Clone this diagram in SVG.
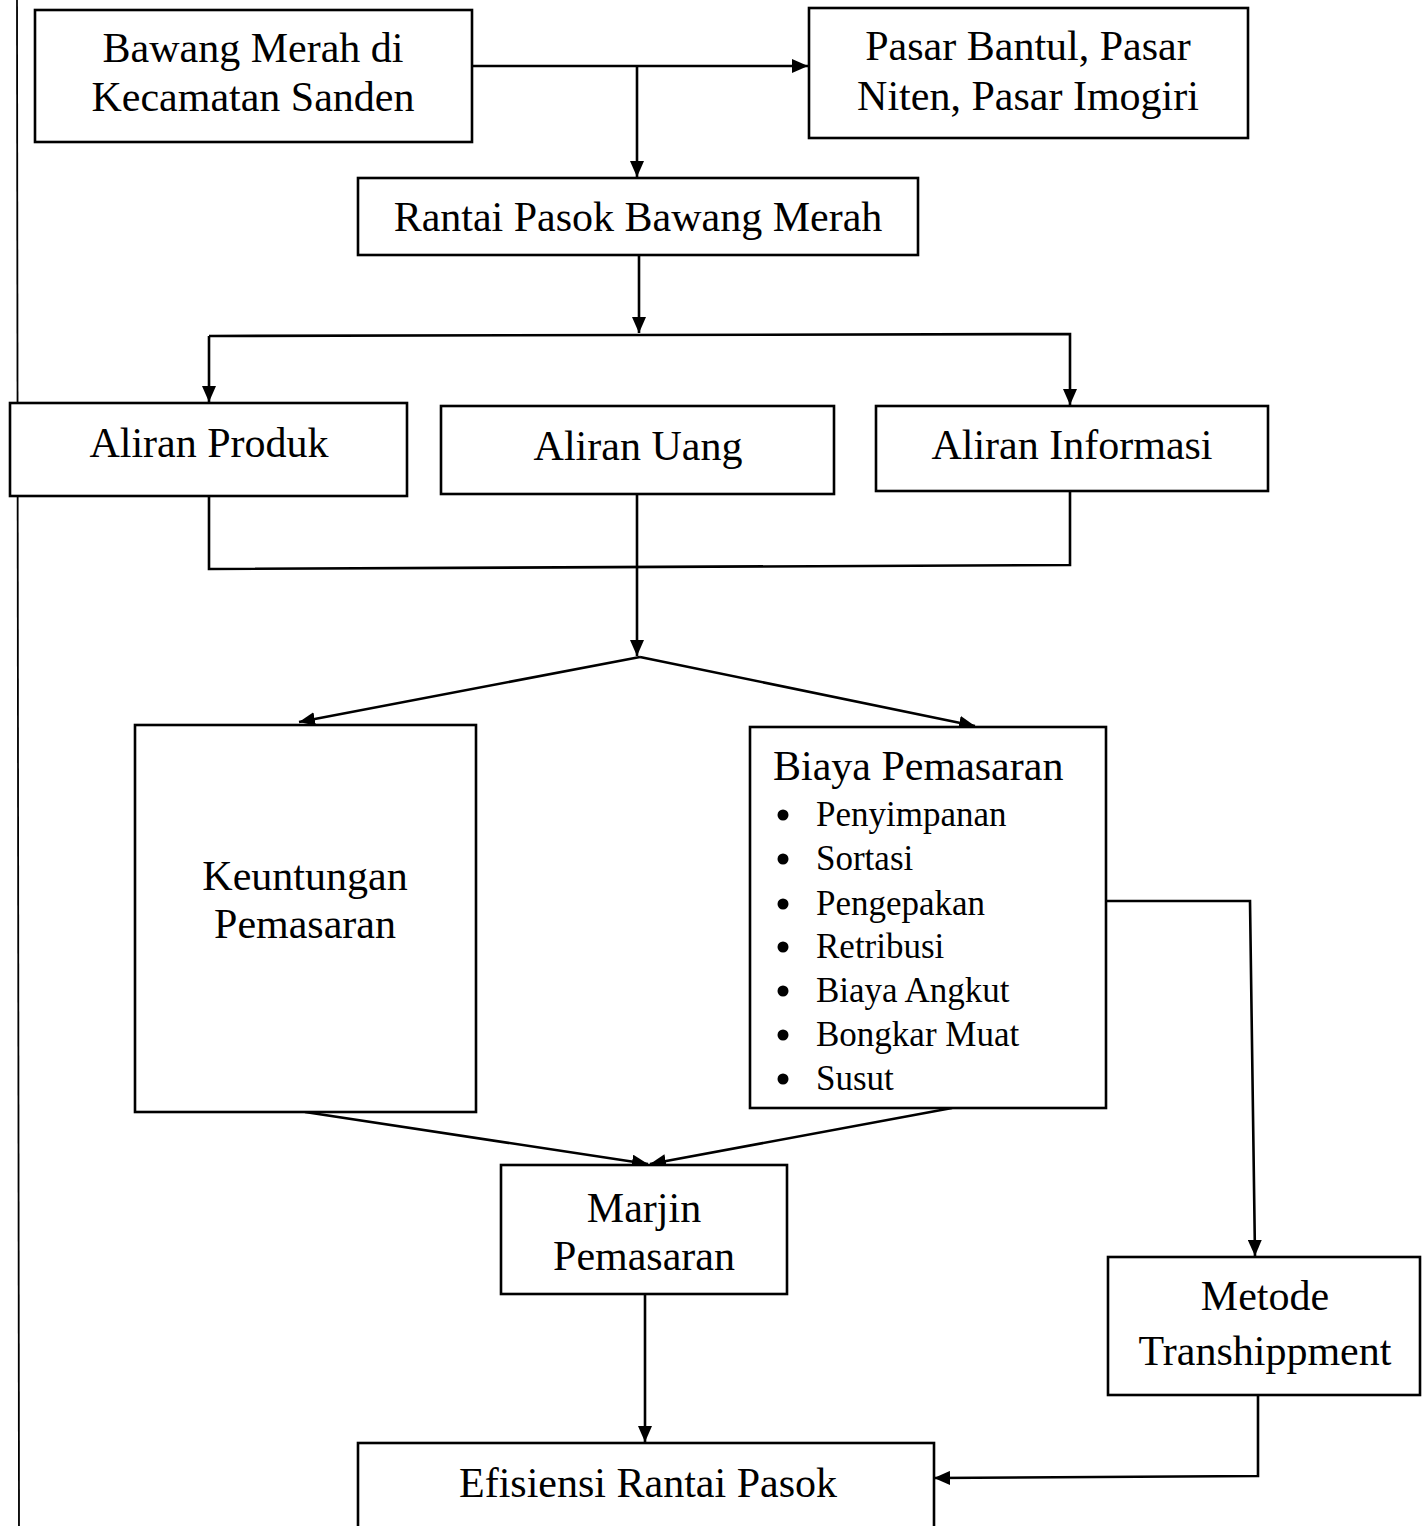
<svg xmlns="http://www.w3.org/2000/svg" width="1428" height="1526" viewBox="0 0 1428 1526">
<style>
.box{fill:#fff;stroke:#000;stroke-width:2.6}
.t{font-family:"Liberation Serif","Times New Roman",serif;font-size:42px;fill:#000;text-anchor:middle}
.tl{font-family:"Liberation Serif","Times New Roman",serif;font-size:42px;fill:#000}
.b{font-family:"Liberation Serif","Times New Roman",serif;font-size:35px;fill:#000}
.c{fill:none;stroke:#000;stroke-width:2.6}
</style>
<defs>
<marker id="ah" viewBox="0 0 16 14" refX="16" refY="7" markerWidth="16" markerHeight="14" markerUnits="userSpaceOnUse" orient="auto">
<path d="M0,0 L16,7 L0,14 Z" fill="#000"/>
</marker>
</defs>
<rect width="1428" height="1526" fill="#fff"/>
<line x1="17" y1="0" x2="19" y2="1526" stroke="#000" stroke-width="1.8"/>
<g id="connectors">
<path class="c" d="M472,66 L808,66" marker-end="url(#ah)"/>
<path class="c" d="M637,66 L637,177" marker-end="url(#ah)"/>
<path class="c" d="M639,255 L639,333" marker-end="url(#ah)"/>
<path class="c" d="M209,336 L1070,334 L1070,405" marker-end="url(#ah)"/>
<path class="c" d="M209,336 L209,402" marker-end="url(#ah)"/>
<path class="c" d="M209,496 L209,569 L1070,565 L1070,491"/>
<path class="c" d="M637,494 L637,656" marker-end="url(#ah)"/>
<path class="c" d="M640,657 L299,722" marker-end="url(#ah)"/>
<path class="c" d="M640,657 L975,726" marker-end="url(#ah)"/>
<path class="c" d="M305,1112 L648,1164" marker-end="url(#ah)"/>
<path class="c" d="M952,1108 L650,1164" marker-end="url(#ah)"/>
<path class="c" d="M645,1294 L645,1442" marker-end="url(#ah)"/>
<path class="c" d="M1106,901 L1250,901 L1255,1256" marker-end="url(#ah)"/>
<path class="c" d="M1258,1395 L1258,1476 L934,1478" marker-end="url(#ah)"/>
</g>
<g id="n-bawang">
<rect class="box" x="35" y="10" width="437" height="132"/>
<text class="t" x="253" y="62">Bawang Merah di</text>
<text class="t" x="253" y="111">Kecamatan Sanden</text>
</g>
<g id="n-pasar">
<rect class="box" x="809" y="8" width="439" height="130"/>
<text class="t" x="1028" y="60">Pasar Bantul, Pasar</text>
<text class="t" x="1028" y="110">Niten, Pasar Imogiri</text>
</g>
<g id="n-rantai">
<rect class="box" x="358" y="178" width="560" height="77"/>
<text class="t" x="638" y="231">Rantai Pasok Bawang Merah</text>
</g>
<g id="n-produk">
<rect class="box" x="10" y="403" width="397" height="93"/>
<text class="t" x="209" y="457">Aliran Produk</text>
</g>
<g id="n-uang">
<rect class="box" x="441" y="406" width="393" height="88"/>
<text class="t" x="638" y="460">Aliran Uang</text>
</g>
<g id="n-informasi">
<rect class="box" x="876" y="406" width="392" height="85"/>
<text class="t" x="1072" y="459">Aliran Informasi</text>
</g>
<g id="n-keuntungan">
<rect class="box" x="135" y="725" width="341" height="387"/>
<text class="t" x="305" y="890">Keuntungan</text>
<text class="t" x="305" y="938">Pemasaran</text>
</g>
<g id="n-biaya">
<rect class="box" x="750" y="727" width="356" height="381"/>
<text class="tl" x="773" y="780">Biaya Pemasaran</text>
<g>
<circle cx="783" cy="815" r="5.5"/>
<circle cx="783" cy="859" r="5.5"/>
<circle cx="783" cy="904" r="5.5"/>
<circle cx="783" cy="947" r="5.5"/>
<circle cx="783" cy="991" r="5.5"/>
<circle cx="783" cy="1035" r="5.5"/>
<circle cx="783" cy="1079" r="5.5"/>
</g>
<text class="b" x="816" y="826">Penyimpanan</text>
<text class="b" x="816" y="870">Sortasi</text>
<text class="b" x="816" y="915">Pengepakan</text>
<text class="b" x="816" y="958">Retribusi</text>
<text class="b" x="816" y="1002">Biaya Angkut</text>
<text class="b" x="816" y="1046">Bongkar Muat</text>
<text class="b" x="816" y="1090">Susut</text>
</g>
<g id="n-marjin">
<rect class="box" x="501" y="1165" width="286" height="129"/>
<text class="t" x="644" y="1222">Marjin</text>
<text class="t" x="644" y="1270">Pemasaran</text>
</g>
<g id="n-metode">
<rect class="box" x="1108" y="1257" width="312" height="138"/>
<text class="t" x="1265" y="1310">Metode</text>
<text class="t" x="1265" y="1365">Transhippment</text>
</g>
<g id="n-efisiensi">
<rect class="box" x="358" y="1443" width="576" height="100"/>
<text class="t" x="648" y="1497">Efisiensi Rantai Pasok</text>
</g>
</svg>
